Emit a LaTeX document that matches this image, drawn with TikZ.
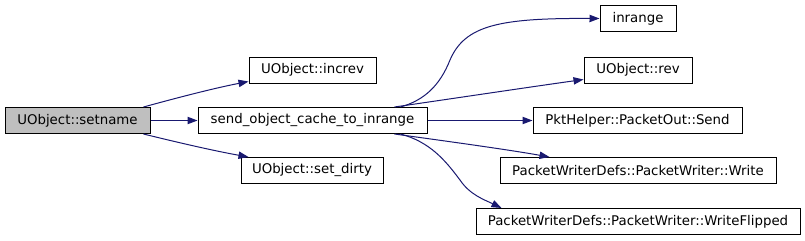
\documentclass[tikz,border=0pt]{standalone}
\usepackage{fontspec}
\setmainfont{DejaVu Sans}
\usetikzlibrary{arrows.meta,calc}
\definecolor{edgeblue}{HTML}{191970}
\definecolor{boxgray}{HTML}{BFBFBF}

\begin{document}
\begin{tikzpicture}[x=0.75pt,y=-0.75pt,>={Triangle[length=7.5pt,width=5.5pt]},
    every node/.style={font=\fontsize{10}{12}\selectfont},
    fnbox/.style={draw=black,line width=0.75pt,minimum height=19.5pt,inner sep=0pt,fill=white},
    call/.style={->,draw=edgeblue,line width=0.75pt}]
                \useasboundingbox (0,0) rectangle (805,240);

                \node[fnbox,fill=boxgray,minimum width=108.75pt] (setname) at (77.5,120.5) {UObject::setname};

                \node[fnbox,minimum width=95.25pt] (increv) at (312.5,70) {UObject::increv};
                \node[fnbox,minimum width=171.75pt] (send) at (312.5,120.5) {send\_object\_cache\_to\_inrange};
                \node[fnbox,minimum width=106.5pt] (setdirty) at (312,170.5) {UObject::set\_dirty};

                \node[fnbox,minimum width=57pt] (inrange) at (638,18.5) {inrange};
                \node[fnbox,minimum width=81pt] (rev) at (638,70) {UObject::rev};
                \node[fnbox,minimum width=156.75pt] (pktsend) at (637.5,120.5) {PktHelper::PacketOut::Send};
                \node[fnbox,minimum width=207pt] (write) at (638,170.5) {PacketWriterDefs::PacketWriter::Write};
                \node[fnbox,minimum width=243pt] (writeflipped) at (638,221.5) {PacketWriterDefs::PacketWriter::WriteFlipped};

                \draw[call] ($(setname.north east)+(-7,0)$) .. controls (180,97) and (215,88) .. ($(increv.south west)+(0,-2)$);
                \draw[call] (setname) -- (send);
                \draw[call] ($(setname.south east)+(-7,0)$) .. controls (180,143) and (215,151) .. ($(setdirty.north west)+(8,0)$);

                \draw[call] ($(send.north east)+(-27,0)$) .. controls (425,100) and (440,85) .. (450,60)
                    .. controls (465,25) and (500,18) .. (inrange.west);
                \draw[call] ($(send.north east)+(-33,0)$) .. controls (470,96) and (530,87) .. ($(rev.south west)+(0,-4)$);
                \draw[call] (send) -- (pktsend);
                \draw[call] ($(send.south east)+(-33,0)$) .. controls (460,143) and (510,150) .. ($(write.north west)+(50,0)$);
                \draw[call] ($(send.south east)+(-27,0)$) .. controls (430,142) and (445,160) .. (460,180)
                    .. controls (470,195) and (485,200) .. ($(writeflipped.north west)+(26,0)$);
            \end{tikzpicture}
\end{document}
